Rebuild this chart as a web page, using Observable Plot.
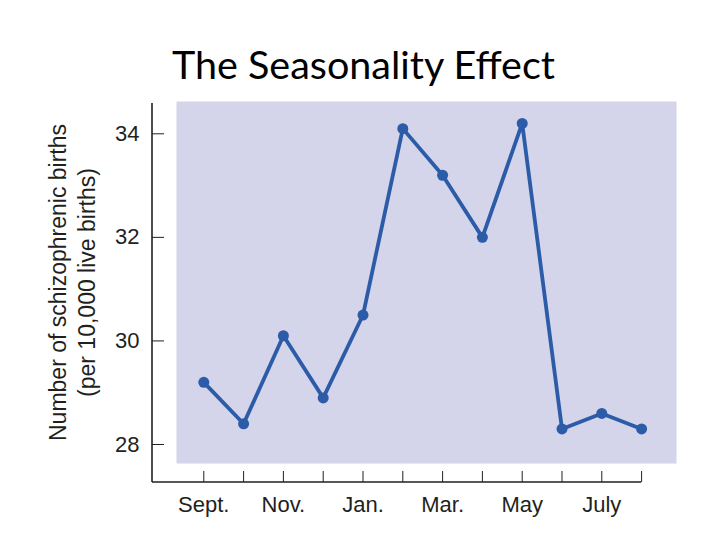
<!DOCTYPE html>
<html><head><meta charset="utf-8">
<script src="https://cdn.jsdelivr.net/npm/d3@7"></script>
<script src="https://cdn.jsdelivr.net/npm/@observablehq/plot@0.6"></script>
<style>
body{margin:0;background:#fff;}
#wrap{position:relative;width:720px;height:540px;overflow:hidden;}
#title{position:absolute;left:172px;top:40px;font-family:Lato,"Open Sans",sans-serif;font-size:39.5px;color:#000;white-space:nowrap;}
#chart{position:absolute;left:0;top:100px;}
</style></head><body>
<div id="wrap"><div id="title">The Seasonality Effect</div><div id="chart"></div></div>
<script>
const monthIndex = [0,1,2,3,4,5,6,7,8,9,10,11];
const months = ["Sept.","Oct.","Nov.","Dec.","Jan.","Feb.","Mar.","Apr.","May","June","July","Aug."];
const tickLabels = ["Sept.","","Nov.","","Jan.","","Mar.","","May","","July",""];
const births = [29.2,28.4,30.1,28.9,30.5,34.1,33.2,32.0,34.2,28.3,28.6,28.3];
const yTicks = [28,30,32,34];
const yLabel = "Number of schizophrenic births\n(per 10,000 live births)";

const data = monthIndex.map(i => ({i, month: months[i], v: births[i]}));
const blue = "#2c5ba8";
const ink = "#231f20";
const font = "Liberation Sans, Arial, sans-serif";

const chart = Plot.plot({
  width: 720, height: 440,
  marginLeft: 176, marginRight: 44, marginTop: 1, marginBottom: 77,
  style: {fontFamily: font, background: "transparent", overflow: "visible"},
  x: {type: "linear", domain: [-0.686, 11.877]},
  y: {domain: [27.633, 34.624]},
  marks: [
    Plot.frame({fill: "#d4d4ea", stroke: null}),
    Plot.axisY(yTicks, {anchor: "left", tickSize: 12, dx: -12, tickPadding: 13, fontSize: 22, fill: ink, stroke: ink, tickFormat: d => String(d), label: null}),
    Plot.axisX(monthIndex, {anchor: "bottom", tickSize: 11, dy: 8, tickPadding: 14, fontSize: 22, fill: ink, stroke: ink, tickFormat: i => tickLabels[i], label: null}),
    Plot.text([yLabel], {frameAnchor: "left", rotate: -90, dx: -105, fontSize: 23, lineHeight: 1.22, fill: ink, textAnchor: "middle", lineAnchor: "middle"}),
    Plot.line(data, {x: "i", y: "v", stroke: blue, strokeWidth: 3.8}),
    Plot.dot(data, {x: "i", y: "v", r: 5.5, fill: blue})
  ]
});
document.getElementById("chart").appendChild(chart);
// axis lines, positioned from Plot's scales
const xs = chart.scale("x"), ys = chart.scale("y");
const left = xs.range[0] - 24;
const bottom = ys.range[0] + 19;
const svg = d3.select(chart);
svg.append("line").attr("x1", left).attr("x2", left).attr("y1", ys.range[1] + 2).attr("y2", bottom).attr("stroke", ink).attr("stroke-width", 1.6);
svg.append("line").attr("x1", left).attr("x2", xs.apply(11)).attr("y1", bottom).attr("y2", bottom).attr("stroke", ink).attr("stroke-width", 1.6);
</script>
</body></html>
